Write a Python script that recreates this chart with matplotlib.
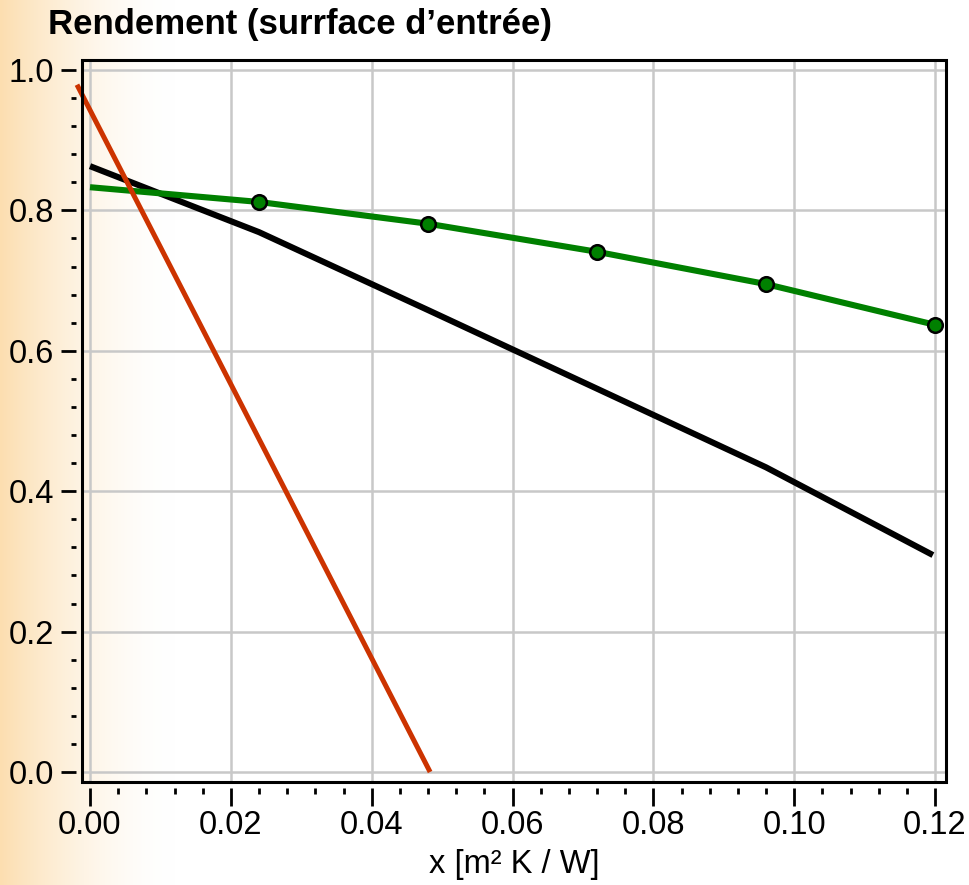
import numpy as np
import matplotlib
matplotlib.use('Agg')
import matplotlib.pyplot as plt
from matplotlib.patches import Rectangle
from matplotlib.ticker import MultipleLocator

plt.rcParams['font.family'] = ['Liberation Sans', 'DejaVu Sans']

# data
x_red = [-0.00185, 0.0483]
y_red = [0.979, 0.0]

x_black = [0.0, 0.024, 0.048, 0.072, 0.096, 0.1197]
y_black = [0.863, 0.769, 0.658, 0.546, 0.434, 0.309]

x_green = [0.0, 0.024, 0.048, 0.072, 0.096, 0.12]
y_green = [0.833, 0.812, 0.781, 0.741, 0.695, 0.637]

x_ticks = [0.00, 0.02, 0.04, 0.06, 0.08, 0.10, 0.12]
y_ticks = [0.0, 0.2, 0.4, 0.6, 0.8, 1.0]

W, H = 969, 885
fig = plt.figure(figsize=(W / 100, H / 100), dpi=100)

# orange gradient on the left edge of the whole figure
bg = fig.add_axes([0, 0, 1, 1], zorder=-10)
px = np.arange(W)
t = np.clip(1 - px / 175.0, 0, 1) ** 1.7
left_col = np.array([252, 222, 176]) / 255.0
row = 1 - t[:, None] * (1 - left_col[None, :])
img = np.repeat(row[None, :, :], 2, axis=0)
bg.imshow(img, aspect='auto', extent=[0, 1, 0, 1])
bg.axis('off')

ax = fig.add_axes([82 / W, 1 - 782 / H, (946 - 82) / W, (782 - 60) / H])
ax.set_facecolor('none')

ax.plot(x_black, y_black, color='black', lw=4.4, solid_capstyle='butt', zorder=3)
ax.plot(x_green, y_green, color='#008000', lw=4.4, solid_capstyle='butt', zorder=4,
        marker='o', markersize=10.5, markerfacecolor='#008000', markeredgecolor='black',
        markeredgewidth=1.8, markevery=[1, 2, 3, 4, 5], clip_on=False)
ax.plot(x_red, y_red, color='#cc3300', lw=3.6, solid_capstyle='butt', zorder=5, clip_on=False)

ax.set_xlim(-0.001136, 0.12156)
ax.set_ylim(-0.01425, 1.0142)

ax.set_xticks(x_ticks)
ax.set_xticklabels(['%.2f' % v for v in x_ticks])
ax.set_yticks(y_ticks)
ax.set_yticklabels(['%.1f' % v for v in y_ticks])
ax.xaxis.set_minor_locator(MultipleLocator(0.004))
ax.yaxis.set_minor_locator(MultipleLocator(0.04))

ax.grid(True, which='major', color='#c8c8c8', lw=1.8, zorder=1)
ax.set_axisbelow(True)

for s in ['left', 'bottom']:
    ax.spines[s].set_position(('outward', 4))
for s in ax.spines.values():
    s.set_visible(False)
ax.add_patch(Rectangle((0, 0), 1, 1, transform=ax.transAxes, fill=False,
                       ec='black', lw=2.2, clip_on=False, zorder=6))

ax.tick_params(axis='both', which='major', direction='out', width=2, labelsize=23.5, colors='black')
ax.tick_params(axis='y', which='major', length=11, pad=5)
ax.tick_params(axis='x', which='major', length=13, pad=3)
ax.tick_params(axis='y', which='minor', length=3.5, width=2)
ax.tick_params(axis='x', which='minor', length=4.5, width=2)

ax.set_xlabel('x [m² K / W]', fontsize=23.5, labelpad=6)

fig.text(48 / W, 1 - 34 / H, 'Rendement (surrface d\u2019entrée)', fontsize=25,
         fontweight='bold', ha='left', va='baseline')

fig.savefig('out.png', dpi=100)
